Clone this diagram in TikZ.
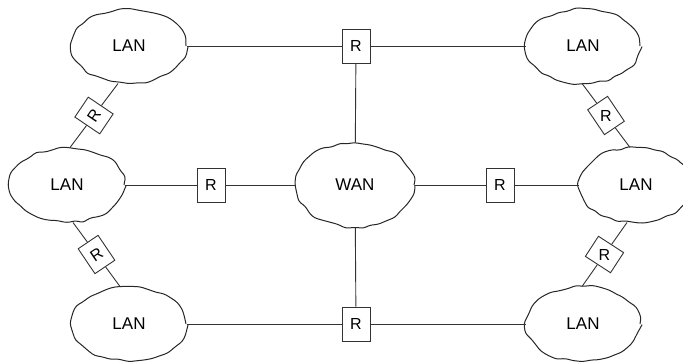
\documentclass[tikz,border=0pt]{standalone}
\usepackage{fontspec}
\setmainfont{Liberation Sans}
\usetikzlibrary{shapes.geometric,decorations.pathmorphing,calc}
\begin{document}
\begin{tikzpicture}[x=1pt, y=1pt,
  lan/.style={ellipse, draw=black!85, line width=1pt, fill=white, minimum width=114pt, minimum height=74pt, inner sep=0pt,
    font=\fontsize{17}{20}\selectfont, decorate, decoration={random steps, segment length=8pt, amplitude=1.7pt}, rounded corners=3pt},
  wan/.style={lan, minimum width=118pt, minimum height=84pt},
  rt/.style={rectangle, draw=black!80, line width=0.9pt, fill=white, minimum width=28pt, minimum height=34pt, inner sep=0pt, font=\fontsize{16}{18}\selectfont},
  rd/.style={rt, minimum width=24pt, minimum height=30pt},
  l/.style={black!80, line width=0.9pt}]
\pgfmathsetseed{11}
\useasboundingbox (0,0) rectangle (683,362);
% top row
\node[lan] (lan1) at (129,316) {LAN};
\node[rt] (r1) at (356,316) {R};
\node[lan] (lan2) at (583,316) {LAN};
% middle row
\node[lan] (lan3) at (67,177) {LAN};
\node[rt] (r2) at (211,177) {R};
\node[wan] (wan) at (355,177) {WAN};
\node[rt] (r3) at (500,177) {R};
\node[lan] (lan4) at (636,177) {LAN};
% bottom row
\node[lan] (lan5) at (129,38) {LAN};
\node[rt] (r4) at (356,38) {R};
\node[lan] (lan6) at (583,38) {LAN};
% side links
\coordinate (a1) at ([xshift=-11pt]lan1.south);
\coordinate (a2) at ([xshift=3pt]lan3.north);
\coordinate (a3) at ([xshift=6pt]lan3.south);
\coordinate (a4) at ([xshift=-9pt]lan5.north);
\coordinate (b1) at ([xshift=-1pt]lan2.south);
\coordinate (b2) at ([xshift=-6pt]lan4.north);
\coordinate (b3) at ([xshift=-9pt]lan4.south);
\coordinate (b4) at ([xshift=-1pt]lan6.north);
\node[rd, rotate=56] (r5) at ($(a1)!0.5!(a2)$) {R};
\node[rd, rotate=34] (r6) at ($(a3)!0.5!(a4)$) {R};
\node[rd, rotate=34] (r7) at ($(b1)!0.5!(b2)$) {\rotatebox{-34}{R}};
\node[rd, rotate=57] (r8) at ($(b3)!0.5!(b4)$) {\rotatebox{-57}{R}};
\draw[l] (lan1) -- (r1) -- (lan2);
\draw[l] (lan3) -- (r2) -- (wan) -- (r3) -- (lan4);
\draw[l] (lan5) -- (r4) -- (lan6);
\draw[l] (r1) -- (wan) -- (r4);
\draw[l] (a1) -- (r5) -- (a2);
\draw[l] (a3) -- (r6) -- (a4);
\draw[l] (b1) -- (r7) -- (b2);
\draw[l] (b3) -- (r8) -- (b4);
\end{tikzpicture}
\end{document}
